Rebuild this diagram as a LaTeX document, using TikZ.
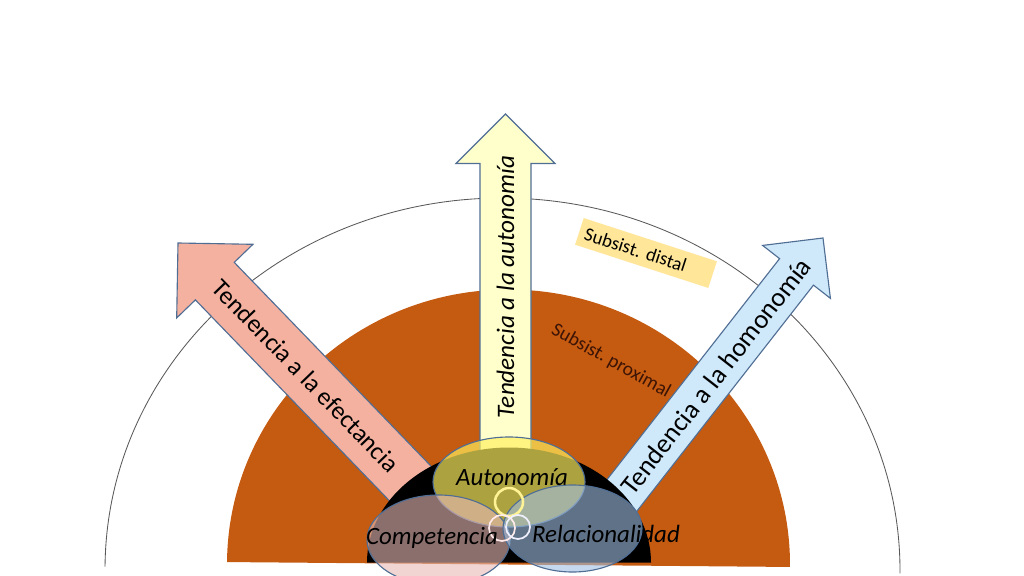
\documentclass[tikz,border=0pt]{standalone}
\usepackage{fontspec}
\setmainfont{Carlito}
\frenchspacing
\definecolor{brownfill}{RGB}{197,90,17}
\definecolor{arrowline}{RGB}{80,110,148}
\definecolor{yellowarrow}{RGB}{255,255,204}
\definecolor{salmonarrow}{RGB}{244,177,160}
\definecolor{bluearrow}{RGB}{207,233,250}
\definecolor{autofill}{RGB}{255,240,95}
\definecolor{compfill}{RGB}{230,185,180}
\definecolor{relfill}{RGB}{160,190,225}
\definecolor{distalfill}{RGB}{255,230,153}
\definecolor{proxtext}{RGB}{60,20,5}
\definecolor{ringyellow}{RGB}{255,243,150}
\def\tendarrow[#1](#2)(#3:#4:#5:#6){\draw[#1,shift={(#2)},rotate=#3] (0,0) -- (-#5,#5) -- (-#5,#6) -- (-#4,#6) -- (-#4,-#6) -- (-#5,-#6) -- (-#5,-#5) -- cycle;}

\begin{document}
\begin{tikzpicture}[x=0.025cm, y=-0.025cm]
			%%%%% START %%%%%
			\fill[white] (0, 0) rectangle (1024, 576);
			\useasboundingbox (0, 0) rectangle (1024, 576);
			
			\draw[line width=0.6pt, color=black!65, rotate around={-0.5:(502.5, 570)}] (105, 570) arc[start angle=180, end angle=360, x radius=397.5, y radius=372];
			\fill[brownfill, rotate around={-0.5:(508.5, 564.5)}] (227, 564.5) arc[start angle=180, end angle=360, x radius=281.5, y radius=275] -- cycle;
			
			\tendarrow[line width=0.8pt, draw=arrowline, fill=yellowarrow](505.5, 114)(90:338:49.5:25.5)
			\tendarrow[line width=0.8pt, draw=arrowline, fill=salmonarrow](178, 243)(134:345:53:27)
			\tendarrow[line width=0.8pt, draw=arrowline, fill=bluearrow](823, 238)(52:340:43:21.5)
			
			\fill[black] (367, 562.5) arc[start angle=180, end angle=360, x radius=142, y radius=115] -- cycle;
			
			\draw[line width=0.8pt, draw=arrowline, fill=autofill, fill opacity=0.68] (509, 482) ellipse (76 and 45);
			\draw[line width=0.8pt, draw=arrowline, fill=compfill, fill opacity=0.6] (438.5, 540) ellipse (71.5 and 45);
			\draw[line width=0.8pt, draw=arrowline, fill=relfill, fill opacity=0.6] (572.5, 528.5) ellipse (69.5 and 43.5);
			
			\draw[line width=1.8pt, color=ringyellow] (509, 502) circle (14);
			\draw[line width=1.2pt, color=red!8] (502, 528) circle (13);
			\draw[line width=1.2pt, color=blue!6] (518, 527) circle (12);
			
			\node[anchor=base, inner sep=0, font=\fontsize{17.7}{21}\selectfont\itshape] (autonomia) at (512, 485) {Autonomía};
			\node[anchor=base, inner sep=0, font=\fontsize{17.7}{21}\selectfont\itshape] (competencia) at (432, 544) {Competencia};
			\node[anchor=base, inner sep=0, font=\fontsize{17.7}{21}\selectfont\itshape] (relacion) at (606, 542) {Relacionalidad};
			
			\node[rotate=90, inner sep=0, font=\fontsize{17.9}{21}\selectfont\itshape] (tautonomia) at (505.5, 287) {Tendencia a la autonomía};
			\node[rotate=-46, inner sep=0, font=\fontsize{18}{21}\selectfont] (tefectancia) at (306, 376) {Tendencia a la efectancia};
			\node[rotate=52, inner sep=0, font=\fontsize{19}{22}\selectfont] (thomonomia) at (716, 376) {Tendencia a la homonomía};
			
			\node[rotate=-18, fill=distalfill, inner xsep=0.15cm, inner ysep=0.05cm, text width=3.2cm, minimum height=0.7cm, align=left, font=\fontsize{13.5}{16}\selectfont] (distal) at (646, 253) {Subsist. distal};
			\node[rotate=-29, inner sep=0, color=proxtext, font=\fontsize{13.8}{16}\selectfont] (proximal) at (611, 361) {Subsist. proximal};
			
			%%%%% END %%%%%
\end{tikzpicture}
\end{document}
